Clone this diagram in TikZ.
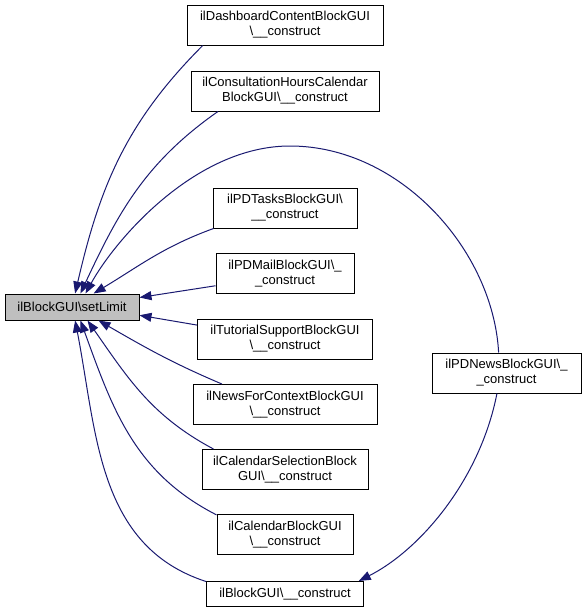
\documentclass[tikz,border=0pt]{standalone}
\usepackage{fontspec}
\setmainfont{Liberation Sans}
\usepackage{xcolor}
\usepackage{tikz}
\usetikzlibrary{positioning,arrows.meta}
\definecolor{edgeblue}{HTML}{191970}
\definecolor{curfill}{HTML}{BFBFBF}

\begin{document}
\begin{tikzpicture}[x=1pt,y=1pt,
    fn/.style={draw=black,line width=1pt,fill=white,inner sep=0pt,
               minimum height=40pt,align=center,
               font=\fontsize{13}{15}\selectfont},
    cur/.style={fn,fill=curfill,minimum height=26pt},
    arrow/.style={-{Triangle[length=12pt,width=9pt]},line width=1pt,edgeblue}]
  \useasboundingbox (0,0) rectangle (585,-613);

  \node[cur, minimum width=134pt] (main) at (72,-307) {ilBlockGUI\textbackslash setLimit};

  \node[fn, minimum width=196pt] (dash) at (285,-25) {ilDashboardContentBlockGUI\\\textbackslash\_\_construct};
  \node[fn, minimum width=188pt] (consult) at (285,-91) {ilConsultationHoursCalendar\\BlockGUI\textbackslash\_\_construct};
  \node[fn, minimum width=144pt] (tasks) at (285,-208) {ilPDTasksBlockGUI\textbackslash\\\_\_construct};
  \node[fn, minimum width=138pt] (mail) at (285,-273.5) {ilPDMailBlockGUI\textbackslash\_\\\_construct};
  \node[fn, minimum width=175pt] (tutorial) at (285,-339) {ilTutorialSupportBlockGUI\\\textbackslash\_\_construct};
  \node[fn, minimum width=184pt] (newsctx) at (285,-404.5) {ilNewsForContextBlockGUI\\\textbackslash\_\_construct};
  \node[fn, minimum width=166pt] (calsel) at (285,-469.5) {ilCalendarSelectionBlock\\GUI\textbackslash\_\_construct};
  \node[fn, minimum width=136pt] (calblock) at (285,-534.5) {ilCalendarBlockGUI\\\textbackslash\_\_construct};
  \node[fn, minimum width=157pt, minimum height=25pt] (blockcons) at (285,-594) {ilBlockGUI\textbackslash\_\_construct};
  \node[fn, minimum width=149pt] (pdnews) at (506.5,-373) {ilPDNewsBlockGUI\textbackslash\_\\\_construct};

  \draw[arrow] (dash.194) to[out=225,in=77] (main.77);
  \draw[arrow] (consult.197) to[out=215,in=65] (main.58);
  \draw[arrow] (pdnews.111) .. controls (493,-250) and (400,-146) .. (290,-146)
                            .. controls (195,-146) and (115,-240) .. (main.45);
  \draw[arrow] (tasks.196) to[out=200,in=31] (main.32);
  \draw[arrow] (mail.190) -- (main.8.5);
  \draw[arrow] (tutorial.171) -- (main.-7.7);
  \draw[arrow] (newsctx.162) to[out=157,in=-30] (main.-27);
  \draw[arrow] (calsel.164) to[out=152,in=-55] (main.-41);
  \draw[arrow] (calblock.164) to[out=153,in=-70] (main.-58);
  \draw[arrow] (blockcons.171) to[out=162,in=-79] (main.-77);
  \draw[arrow] (pdnews.245) .. controls (480,-480) and (420,-550) .. (blockcons.10);
\end{tikzpicture}
\end{document}
